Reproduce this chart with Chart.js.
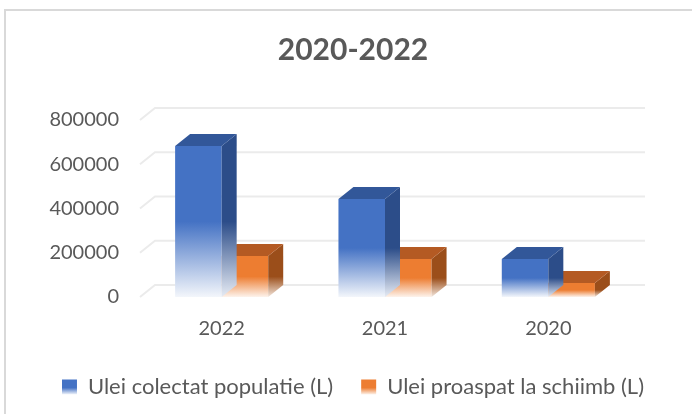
<!DOCTYPE html>
<html>
<head>
<meta charset="utf-8">
<script src="https://cdn.jsdelivr.net/npm/chart.js@4"></script>
<style>
  html, body { margin: 0; padding: 0; background: #ffffff; }
  #wrap { width: 692px; height: 414px; position: relative; }
</style>
</head>
<body>
<div id="wrap"><canvas id="c" width="692" height="414"></canvas></div>
<script>
// ---- data ----
const categories = ['2022', '2021', '2020'];
const seriesNames = ['Ulei colectat populatie (L)', 'Ulei proaspat la schiimb (L)'];
const colectatValues = [682000, 443000, 172000];
const proaspatValues = [185000, 172000, 63000];
const yTickMin = 0;
const yTickMax = 800000;
const yTickStep = 200000;
const chartTitle = '2020-2022';

// ---- style ----
const DEPTH_X = 15, DEPTH_Y = 12;
const palette = [
  { front: '#4472C4', fade: '#F3F6FB', side: '#2C4D89', sideFade: '#E6EBF4', top: '#325799' },
  { front: '#ED7D31', fade: '#FDF3EC', side: '#9B4E1A', sideFade: '#F3E6DC', top: '#B45A23' }
];
const textColor = '#595959';

function frontFill(dsIndex) {
  return function (ctx) {
    const p = palette[dsIndex];
    if (ctx.type !== 'data') return p.front;
    const chart = ctx.chart;
    const ys = chart.scales.y;
    if (!ys) return p.front;
    const top = ys.getPixelForValue(ctx.parsed.y);
    const bottom = ys.getPixelForValue(0);
    if (!isFinite(top) || !isFinite(bottom) || bottom - top < 1) return p.front;
    const g = chart.ctx.createLinearGradient(0, top, 0, bottom);
    g.addColorStop(0, p.front);
    g.addColorStop(0.5, p.front);
    g.addColorStop(1, p.fade);
    return g;
  };
}

const frame = {
  id: 'frame',
  beforeDraw(chart) {
    const c = chart.ctx;
    c.save();
    c.strokeStyle = '#D9D9D9';
    c.lineWidth = 2;
    c.strokeRect(5, 10, 800, 800);
    c.restore();
    // gradient legend markers
    const lg = chart.legend;
    if (lg && lg.legendItems && lg.legendHitBoxes) {
      lg.legendItems.forEach((item, i) => {
        const hb = lg.legendHitBoxes[i];
        if (!hb) return;
        const top = hb.top + (hb.height - 15) / 2;
        const g = c.createLinearGradient(0, top, 0, top + 15);
        g.addColorStop(0, palette[i].front);
        g.addColorStop(0.55, palette[i].front);
        g.addColorStop(1, palette[i].fade);
        item.fillStyle = g;
      });
    }
  }
};

const wallGrid = {
  id: 'wallGrid',
  beforeDatasetsDraw(chart) {
    const c = chart.ctx;
    const ys = chart.scales.y;
    const area = chart.chartArea;
    c.save();
    c.strokeStyle = '#EBEBEB';
    c.lineWidth = 2;
    ys.ticks.forEach(t => {
      const fy = ys.getPixelForValue(t.value);
      c.beginPath();
      c.moveTo(area.left, fy);
      c.lineTo(area.left + DEPTH_X, fy - DEPTH_Y);
      c.lineTo(area.right + DEPTH_X, fy - DEPTH_Y);
      c.stroke();
    });
    c.restore();
  }
};

const bars3d = {
  id: 'bars3d',
  afterDatasetDraw(chart, args) {
    const c = chart.ctx;
    const p = palette[args.index];
    c.save();
    args.meta.data.forEach(bar => {
      const { x, y, base, width } = bar.getProps(['x', 'y', 'base', 'width'], true);
      const l = x - width / 2, r = x + width / 2;
      const g = c.createLinearGradient(0, y, 0, base);
      g.addColorStop(0, p.side);
      g.addColorStop(0.5, p.side);
      g.addColorStop(1, p.sideFade);
      c.fillStyle = g;
      c.beginPath();
      c.moveTo(r, y);
      c.lineTo(r + DEPTH_X, y - DEPTH_Y);
      c.lineTo(r + DEPTH_X, base - DEPTH_Y);
      c.lineTo(r, base);
      c.closePath();
      c.fill();
      c.fillStyle = p.top;
      c.beginPath();
      c.moveTo(l, y);
      c.lineTo(l + DEPTH_X, y - DEPTH_Y);
      c.lineTo(r + DEPTH_X, y - DEPTH_Y);
      c.lineTo(r, y);
      c.closePath();
      c.fill();
    });
    c.restore();
  }
};

new Chart(document.getElementById('c'), {
  type: 'bar',
  data: {
    labels: categories,
    datasets: [
      { label: seriesNames[0], data: colectatValues, backgroundColor: frontFill(0), borderWidth: 0 },
      { label: seriesNames[1], data: proaspatValues, backgroundColor: frontFill(1), borderWidth: 0 }
    ]
  },
  options: {
    responsive: false,
    devicePixelRatio: 1,
    animation: false,
    datasets: { bar: { categoryPercentage: 0.57, barPercentage: 1.0 } },
    layout: { padding: { left: 14, right: 0, top: 0, bottom: 6 } },
    scales: {
      x: {
        grid: { display: false, drawTicks: false, tickLength: 0 },
        border: { display: false },
        ticks: { color: textColor, font: { family: 'Lato', size: 20 }, padding: 20 },
        afterFit(scale) { scale.height = 51; }
      },
      y: {
        min: yTickMin,
        max: yTickMax,
        grid: { display: false, drawTicks: false, tickLength: 0 },
        border: { display: false },
        ticks: {
          stepSize: yTickStep, color: textColor, font: { family: 'Lato', size: 20 }, padding: 21,
          callback: v => String(v)
        },
        afterFit(scale) { scale.width = 126; }
      },
      yRight: {
        position: 'right',
        display: true,
        grid: { display: false, drawTicks: false },
        border: { display: false },
        ticks: { display: false },
        afterFit(scale) { scale.width = 62; }
      }
    },
    plugins: {
      title: {
        display: true,
        text: chartTitle,
        color: textColor,
        font: { family: 'Lato', size: 30, weight: 'bold' },
        padding: { top: 32, bottom: 52 }
      },
      legend: {
        position: 'bottom',
        labels: {
          color: textColor,
          font: { family: 'Lato', size: 22 },
          boxWidth: 15,
          boxHeight: 15,
          padding: 28,
          generateLabels(chart) {
            return chart.data.datasets.map((ds, i) => ({
              text: ds.label,
              fillStyle: palette[i].front,
              strokeStyle: palette[i].front,
              lineWidth: 0,
              hidden: false,
              datasetIndex: i,
              fontColor: textColor
            }));
          }
        }
      },
      tooltip: { enabled: false }
    }
  },
  plugins: [frame, wallGrid, bars3d]
});
</script>
</body>
</html>
